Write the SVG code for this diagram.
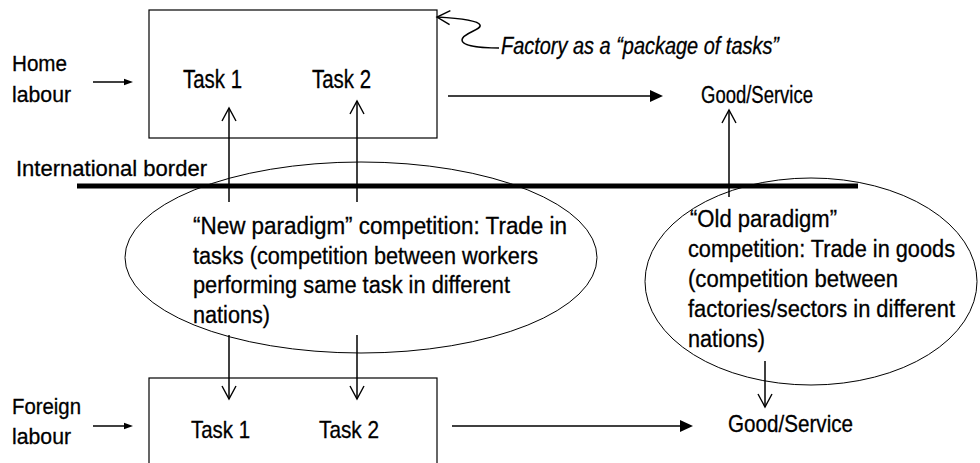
<svg xmlns="http://www.w3.org/2000/svg" width="980" height="463" viewBox="0 0 980 463">
<style>
text{font-family:"Liberation Sans",Arial,sans-serif;fill:#000;stroke:#000;stroke-width:0.3}
.lbl{font-size:22px}
.body{font-size:23px}
.box{fill:none;stroke:#000;stroke-width:1.2}
.ell{fill:none;stroke:#000;stroke-width:1}
.ar{fill:none;stroke:#000;stroke-width:1.5}
</style>
<defs>
<marker id="open" viewBox="-15 -9 18 18" markerWidth="18" markerHeight="18" refX="0" refY="0" markerUnits="userSpaceOnUse" orient="auto">
<path d="M -13 -7 L 0 0 L -13 7" fill="none" stroke="#000" stroke-width="1.4"/>
</marker>
<marker id="big" viewBox="-12 -8 20 16" markerWidth="20" markerHeight="16" refX="0" refY="0" markerUnits="userSpaceOnUse" orient="auto">
<path d="M -9 -6 L 4 0 L -9 6 Z" fill="#000"/>
</marker>
<marker id="small" viewBox="-8 -5 12 10" markerWidth="12" markerHeight="10" refX="0" refY="0" markerUnits="userSpaceOnUse" orient="auto">
<path d="M -6 -3.2 L 3 0 L -6 3.2 Z" fill="#000"/>
</marker>
</defs>

<g id="home-labour">
<text class="lbl" x="12" y="71" textLength="55" lengthAdjust="spacingAndGlyphs">Home</text>
<text class="lbl" x="12" y="102" textLength="59" lengthAdjust="spacingAndGlyphs">labour</text>
</g>
<g id="foreign-labour">
<text class="lbl" x="12" y="414" textLength="69" lengthAdjust="spacingAndGlyphs">Foreign</text>
<text class="lbl" x="12" y="444" textLength="59" lengthAdjust="spacingAndGlyphs">labour</text>
</g>
<g id="border">
<text x="16" y="176" font-size="22" textLength="191" lengthAdjust="spacingAndGlyphs">International border</text>
<line x1="77" y1="186" x2="858" y2="186" stroke="#000" stroke-width="5"/>
</g>
<g id="home-factory">
<rect class="box" x="149" y="10" width="288" height="128"/>
<text x="183" y="88" font-size="25" textLength="59" lengthAdjust="spacingAndGlyphs">Task 1</text>
<text x="312" y="88" font-size="25" textLength="59" lengthAdjust="spacingAndGlyphs">Task 2</text>
</g>
<g id="foreign-factory">
<rect class="box" x="149" y="378" width="288" height="100"/>
<text x="191" y="438" font-size="24" textLength="59" lengthAdjust="spacingAndGlyphs">Task 1</text>
<text x="319" y="438" font-size="24" textLength="60" lengthAdjust="spacingAndGlyphs">Task 2</text>
</g>
<g id="good-home">
<text x="701" y="103" font-size="23" textLength="112" lengthAdjust="spacingAndGlyphs">Good/Service</text>
</g>
<g id="good-foreign">
<text x="728" y="432" font-size="24" textLength="125" lengthAdjust="spacingAndGlyphs">Good/Service</text>
</g>
<g id="factory-note">
<text x="501" y="54" font-size="23" font-style="italic" textLength="278" lengthAdjust="spacingAndGlyphs">Factory as a “package of tasks”</text>
</g>
<g id="new-paradigm">
<ellipse class="ell" cx="361" cy="257.5" rx="236" ry="95.5"/>
<text class="body" x="193" y="234" textLength="374" lengthAdjust="spacingAndGlyphs">“New paradigm” competition: Trade in</text>
<text class="body" x="193" y="263.7" textLength="345" lengthAdjust="spacingAndGlyphs">tasks (competition between workers</text>
<text class="body" x="193" y="293.3" textLength="317" lengthAdjust="spacingAndGlyphs">performing same task in different</text>
<text class="body" x="193" y="323" textLength="77" lengthAdjust="spacingAndGlyphs">nations)</text>
</g>
<g id="old-paradigm">
<ellipse class="ell" cx="811" cy="281.5" rx="166" ry="103.5"/>
<text class="body" x="690" y="227" textLength="147" lengthAdjust="spacingAndGlyphs">“Old paradigm”</text>
<text class="body" x="688" y="257" textLength="267" lengthAdjust="spacingAndGlyphs">competition: Trade in goods</text>
<text class="body" x="688" y="287" textLength="210" lengthAdjust="spacingAndGlyphs">(competition between</text>
<text class="body" x="688" y="317" textLength="267" lengthAdjust="spacingAndGlyphs">factories/sectors in different</text>
<text class="body" x="688" y="347" textLength="77" lengthAdjust="spacingAndGlyphs">nations)</text>
</g>

<g id="connectors">
<line class="ar" x1="93" y1="82" x2="130" y2="82" marker-end="url(#small)"/>
<line class="ar" x1="93" y1="426" x2="130" y2="426" marker-end="url(#small)"/>
<line class="ar" x1="448" y1="96" x2="659" y2="96" marker-end="url(#big)"/>
<line class="ar" x1="452" y1="426" x2="689" y2="426" marker-end="url(#big)"/>
<line class="ar" x1="229" y1="202" x2="229" y2="108" marker-end="url(#open)"/>
<line class="ar" x1="357" y1="202" x2="357" y2="101" marker-end="url(#open)"/>
<line class="ar" x1="729" y1="197" x2="729" y2="110" marker-end="url(#open)"/>
<line class="ar" x1="229" y1="335" x2="229" y2="399" marker-end="url(#open)"/>
<line class="ar" x1="357" y1="335" x2="357" y2="399" marker-end="url(#open)"/>
<line class="ar" x1="765" y1="361" x2="765" y2="407" marker-end="url(#open)"/>
<path class="ar" d="M 499 48 C 480 48, 462 46, 462 40 C 462 33, 482 30, 480 25 C 478 20, 455 18, 437 17" marker-end="url(#open)"/>
</g>
</svg>
